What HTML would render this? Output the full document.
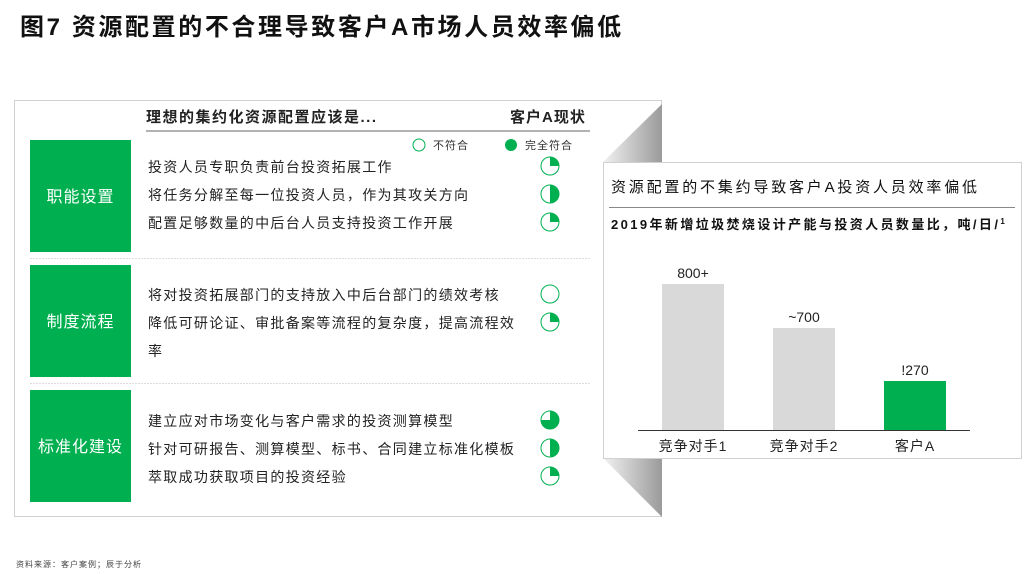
<!DOCTYPE html>
<html><head><meta charset="utf-8"><style>
body{margin:0;background:#fff;}
svg{display:block;font-family:"Liberation Sans","Noto Sans CJK SC",sans-serif;}
</style></head><body>
<svg width="1024" height="574" viewBox="0 0 1024 574">
<defs>
<linearGradient id="g1" x1="0" y1="0" x2="1" y2="0"><stop offset="0" stop-color="#f2f2f2"/><stop offset="1" stop-color="#9a9a9a"/></linearGradient>
</defs>
<text x="20" y="35" font-size="24" font-weight="bold" fill="#111" letter-spacing="2.6">图7 资源配置的不合理导致客户A市场人员效率偏低</text>
<!-- left panel -->
<rect x="14.5" y="100.5" width="647" height="416" fill="#fff" stroke="#d0d0d0"/>
<text x="146" y="122" font-size="15" font-weight="bold" fill="#222" letter-spacing="1.5">理想的集约化资源配置应该是...</text>
<text x="510" y="122" font-size="15" font-weight="bold" fill="#222" letter-spacing="1">客户A现状</text>
<line x1="146" y1="131" x2="590" y2="131" stroke="#999" stroke-width="1.5"/>
<circle cx="419" cy="145" r="6" fill="none" stroke="#00b050" stroke-width="1"/>
<text x="433" y="149" font-size="11" fill="#333" letter-spacing="1">不符合</text>
<circle cx="511" cy="145" r="6" fill="#00b050"/>
<text x="525" y="149" font-size="11" fill="#333" letter-spacing="1">完全符合</text>
<rect x="30" y="140" width="101" height="112" fill="#00b050"/>
<rect x="30" y="265" width="101" height="112" fill="#00b050"/>
<rect x="30" y="390" width="101" height="112" fill="#00b050"/>
<text x="80.5" y="202" font-size="16" fill="#fff" text-anchor="middle" letter-spacing="1">职能设置</text>
<text x="80.5" y="327" font-size="16" fill="#fff" text-anchor="middle" letter-spacing="1">制度流程</text>
<text x="80.5" y="452" font-size="16" fill="#fff" text-anchor="middle" letter-spacing="1">标准化建设</text>
<line x1="30" y1="258.5" x2="590" y2="258.5" stroke="#ddd" stroke-dasharray="2,1"/>
<line x1="30" y1="383.5" x2="590" y2="383.5" stroke="#ddd" stroke-dasharray="2,1"/>
<g font-size="14" fill="#222" letter-spacing="1.3">
<text x="148" y="172">投资人员专职负责前台投资拓展工作</text>
<text x="148" y="200">将任务分解至每一位投资人员，作为其攻关方向</text>
<text x="148" y="228">配置足够数量的中后台人员支持投资工作开展</text>
<text x="148" y="300">将对投资拓展部门的支持放入中后台部门的绩效考核</text>
<text x="148" y="328">降低可研论证、审批备案等流程的复杂度，提高流程效</text>
<text x="148" y="356">率</text>
<text x="148" y="426">建立应对市场变化与客户需求的投资测算模型</text>
<text x="148" y="454">针对可研报告、测算模型、标书、合同建立标准化模板</text>
<text x="148" y="482">萃取成功获取项目的投资经验</text>
</g>
<g stroke="#00b050" stroke-width="1" fill="#fff">
<circle cx="550" cy="166" r="9"/><circle cx="550" cy="194" r="9"/><circle cx="550" cy="222" r="9"/>
<circle cx="550" cy="294" r="9"/><circle cx="550" cy="322" r="9"/>
<circle cx="550" cy="420" r="9"/><circle cx="550" cy="448" r="9"/><circle cx="550" cy="476" r="9"/>
</g>
<g fill="#00b050">
<path d="M550 166 L550 157 A9 9 0 0 1 559 166 Z"/>
<path d="M550 185 A9 9 0 0 1 550 203 Z"/>
<path d="M550 222 L550 213 A9 9 0 0 1 559 222 Z"/>
<path d="M550 322 L550 313 A9 9 0 0 1 559 322 Z"/>
<path d="M550 420 L550 411 A9 9 0 1 1 541 420 Z"/>
<path d="M550 439 A9 9 0 0 1 550 457 Z"/>
<path d="M550 476 L550 467 A9 9 0 0 1 559 476 Z"/>
</g>
<!-- fold triangles -->
<polygon points="603,162 662,104 662,162" fill="url(#g1)"/>
<polygon points="603,458 662,458 662,517" fill="url(#g1)"/>
<!-- right panel -->
<rect x="603.5" y="162.5" width="418" height="296" fill="#fff" stroke="#d0d0d0"/>
<text x="611" y="192" font-size="15" fill="#111" letter-spacing="2.8">资源配置的不集约导致客户A投资人员效率偏低</text>
<line x1="609" y1="207.5" x2="1015" y2="207.5" stroke="#888"/>
<text x="611" y="229" font-size="13" font-weight="bold" fill="#111" letter-spacing="2.4">2019年新增垃圾焚烧设计产能与投资人员数量比，吨/日/<tspan font-size="8" dy="-5">1</tspan></text>
<rect x="662" y="284" width="62" height="146" fill="#d9d9d9"/>
<rect x="773" y="328" width="62" height="102" fill="#d9d9d9"/>
<rect x="884" y="381" width="62" height="49" fill="#00b050"/>
<line x1="638" y1="430.5" x2="970" y2="430.5" stroke="#333"/>
<g font-size="14" fill="#222" text-anchor="middle">
<text x="693" y="278">800+</text>
<text x="804" y="322">~700</text>
<text x="915" y="375">!270</text>
<text x="693" y="451" letter-spacing="1">竞争对手1</text>
<text x="804" y="451" letter-spacing="1">竞争对手2</text>
<text x="915" y="451" letter-spacing="1">客户A</text>
</g>
<text x="16" y="567" font-size="8" fill="#444" letter-spacing="1">资料来源：客户案例；辰于分析</text>
</svg>
</body></html>
